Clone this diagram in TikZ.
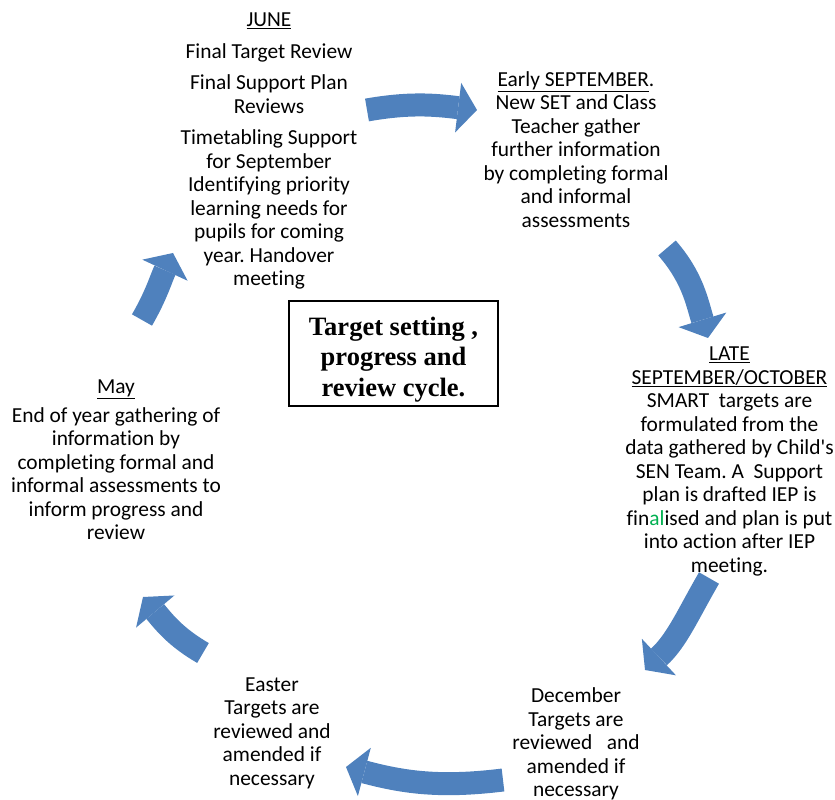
\documentclass[tikz,border=0pt]{standalone}
\usepackage{fontspec}
\setmainfont{Carlito}[Ligatures={CommonOff,TeXOff}]
\newfontfamily\timesface{Liberation Serif}
\usetikzlibrary{arrows.meta}
\definecolor{arrowblue}{RGB}{79,129,189}
\definecolor{algreen}{RGB}{0,176,80}
\frenchspacing

\begin{document}
\begin{tikzpicture}[
    x=1pt, y=1pt,
    txt/.style={align=center, inner sep=0pt, font=\fontsize{21.4}{23.5}\selectfont},
    cyclebox/.style={draw, line width=1.8pt, minimum width=209pt, minimum height=105pt},
    cycletitle/.style={align=center, inner sep=0pt, font=\timesface\bfseries\fontsize{26.5}{30.5}\selectfont},
    cyclearrow/.style={draw=arrowblue, line width=23pt, -{Triangle[width=50pt, length=19pt, line width=0pt]}}
]
\useasboundingbox (0,0) rectangle (835,800);
% stages of the year
\node[txt] (june) at (269,649) {\underline{JUNE}\\[8pt]
  Final Target Review\\[8pt]
  Final Support Plan\\ Reviews\\[8pt]
  Timetabling Support\\ for September\\ Identifying priority\\ learning needs for\\ pupils for coming\\ year. Handover\\ meeting};
\node[txt] (sept) at (576,650.5) {\underline{Early SEPTEMBER}.\\ New SET and Class\\ Teacher gather\\ further information\\ by completing formal\\ and informal\\ assessments};
\node[txt] (late) at (729.5,338.5) {\underline{LATE}\\ \underline{SEPTEMBER/OCTOBER}\\ SMART\ \ targets are\\ formulated from the\\ data gathered by Child's\\ SEN Team. A\ \ Support\\ plan is drafted IEP is\\ fin\textcolor{algreen}{al}ised and plan is put\\ into action after IEP\\ meeting.};
\node[txt] (dec) at (576,56) {December\\ Targets are\\ reviewed\ \ \ and\\ amended if\\ necessary};
\node[txt] (easter) at (272,67) {Easter\\ Targets are\\ reviewed and\\ amended if\\ necessary};
\node[txt] (may) at (116,340) {\underline{May}\\[5pt] End of year gathering of\\ information by\\ completing formal and\\ informal assessments to\\ inform progress and\\ review};
\node[cyclebox] (cycle) at (393.5,446.5) {};
\node[cycletitle] (cycletext) at ([yshift=-6pt]cycle.center) {Target setting ,\\ progress and\\ review cycle.};
% block arrows
\coordinate (a1s) at (367,690); \coordinate (a1e) at (477,690);
\coordinate (a2s) at (667,552); \coordinate (a2e) at (708,462);
\coordinate (a3s) at (709,222); \coordinate (a3e) at (645,130);
\coordinate (a4s) at (503,20);  \coordinate (a4e) at (346,33);
\coordinate (a5s) at (203,147); \coordinate (a5e) at (143,203);
\coordinate (a6s) at (142,480); \coordinate (a6e) at (173,547);
\draw[cyclearrow] (a1s) to[out=10, in=173] (a1e);
\draw[cyclearrow] (a2s) to[out=-49, in=107] (a2e);
\draw[cyclearrow] (a3s) to[out=-120, in=43] (a3e);
\draw[cyclearrow] (a4s) to[out=187, in=-15] (a4e);
\draw[cyclearrow] (a5s) to[out=150, in=-50] (a5e);
\draw[cyclearrow] (a6s) to[out=60, in=-115] (a6e);
\end{tikzpicture}
\end{document}
